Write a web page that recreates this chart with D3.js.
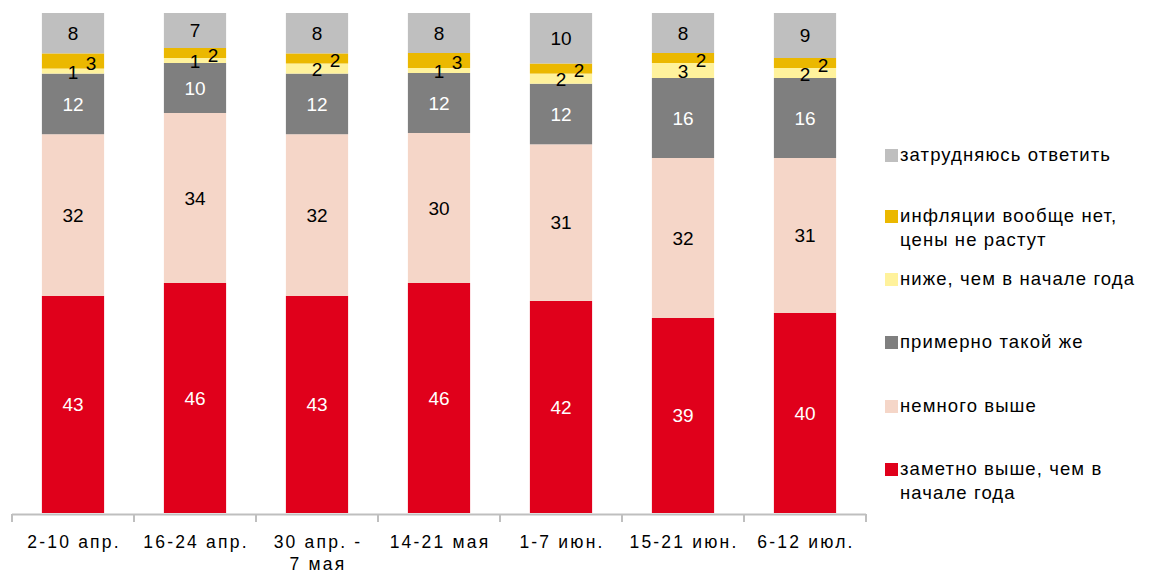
<!DOCTYPE html>
<html>
<head>
  <meta charset="utf-8">
  <title>Инфляция: оценки</title>
  <script src="https://d3js.org/d3.v7.min.js"></script>
  <style>
    body { margin: 0; background: #fff; }
    svg text { font-family: "Liberation Sans", Arial, sans-serif; }
  </style>
</head>
<body>
  <div id="chart"></div>
  <script>
    // categories (survey waves) and series, bottom to top
    const periods = ["2-10 апр.", "16-24 апр.", "30 апр. -|7 мая", "14-21 мая", "1-7 июн.", "15-21 июн.", "6-12 июл."];
    const seriesNames = [
      "заметно выше, чем в|начале года",
      "немного выше",
      "примерно такой же",
      "ниже, чем в начале года",
      "инфляции вообще нет,|цены не растут",
      "затрудняюсь ответить"
    ];
    const seriesColors = ["#e0001b", "#f5d6c8", "#7f7f7f", "#fff29c", "#ebb800", "#bfbfbf"];
    const labelColors = ["#fff", "#000", "#fff", "#000", "#000", "#000"];

    const muchHigher = [43, 46, 43, 46, 42, 39, 40];
    const slightlyHigher = [32, 34, 32, 30, 31, 32, 31];
    const same = [12, 10, 12, 12, 12, 16, 16];
    const lower = [1, 1, 2, 1, 2, 3, 2];
    const noInflation = [3, 2, 2, 3, 2, 2, 2];
    const hardToSay = [8, 7, 8, 8, 10, 8, 9];

    const seriesValues = [muchHigher, slightlyHigher, same, lower, noInflation, hardToSay];
    const keys = seriesNames.map((d, i) => "s" + i);

    const data = periods.map((p, j) => {
      const row = { period: p };
      keys.forEach((k, i) => row[k] = seriesValues[i][j]);
      return row;
    });

    const W = 1153, H = 573;
    const svg = d3.select("#chart").append("svg")
      .attr("width", W).attr("height", H);

    const x = d3.scaleBand()
      .domain(periods)
      .range([12, 866])
      .paddingInner(0.49)
      .paddingOuter(0.245);

    const y = d3.scaleLinear().domain([0, 1]).range([513, 13]);

    const stacked = d3.stack().keys(keys).offset(d3.stackOffsetExpand)(data);

    const layers = svg.selectAll(".layer")
      .data(stacked)
      .enter().append("g")
      .attr("class", "layer")
      .attr("fill", (d, i) => seriesColors[i]);

    layers.selectAll("rect")
      .data(d => d)
      .enter().append("rect")
      .attr("x", d => x(d.data.period))
      .attr("y", d => y(d[1]))
      .attr("width", x.bandwidth())
      .attr("height", d => y(d[0]) - y(d[1]));

    // value labels
    stacked.forEach((layer, i) => {
      svg.append("g").selectAll("text")
        .data(layer)
        .enter().append("text")
        .attr("x", d => x(d.data.period) + x.bandwidth() / 2 + (i === 4 ? 18 : 0))
        .attr("y", d => (y(d[0]) + y(d[1])) / 2 + (i === 4 ? 2 : (i === 3 ? 1 : 0)))
        .attr("dy", "0.35em")
        .attr("text-anchor", "middle")
        .attr("font-size", 19)
        .attr("fill", labelColors[i])
        .text(d => d.data[layer.key]);
    });

    // x axis
    const tickPos = d3.range(periods.length + 1).map(i => 12 + i * (866 - 12) / periods.length);
    svg.append("line")
      .attr("x1", 12).attr("x2", 866)
      .attr("y1", 514.5).attr("y2", 514.5)
      .attr("stroke", "#bfbfbf").attr("stroke-width", 2);
    svg.selectAll(".tick-mark")
      .data(tickPos)
      .enter().append("line")
      .attr("x1", d => d).attr("x2", d => d)
      .attr("y1", 514).attr("y2", 522)
      .attr("stroke", "#bfbfbf").attr("stroke-width", 2);

    svg.selectAll(".cat-label")
      .data(periods)
      .enter().append("text")
      .attr("text-anchor", "middle")
      .attr("font-size", 17.5)
      .attr("letter-spacing", 2.2)
      .attr("fill", "#000")
      .each(function(d) {
        const lines = d.split("|");
        d3.select(this).selectAll("tspan")
          .data(lines)
          .enter().append("tspan")
          .attr("x", x(d) + x.bandwidth() / 2 + 1)
          .attr("y", (l, k) => 548 + k * 22)
          .text(l => l);
      });

    // legend, top to bottom in reverse stack order
    const legendY = [155, 216, 279, 342, 406, 469];
    const legendOrder = [5, 4, 3, 2, 1, 0];
    const legend = svg.selectAll(".legend")
      .data(legendOrder)
      .enter().append("g")
      .attr("transform", (d, k) => "translate(885," + legendY[k] + ")");

    legend.append("rect")
      .attr("x", 0).attr("y", -6)
      .attr("width", 13).attr("height", 13)
      .attr("fill", d => seriesColors[d]);

    legend.append("text")
      .attr("font-size", 18.5)
      .attr("letter-spacing", 1.1)
      .attr("fill", "#000")
      .each(function(d) {
        const lines = seriesNames[d].split("|");
        d3.select(this).selectAll("tspan")
          .data(lines)
          .enter().append("tspan")
          .attr("x", 15)
          .attr("y", (l, k) => 6 + k * 24)
          .text(l => l);
      });
  </script>
</body>
</html>
